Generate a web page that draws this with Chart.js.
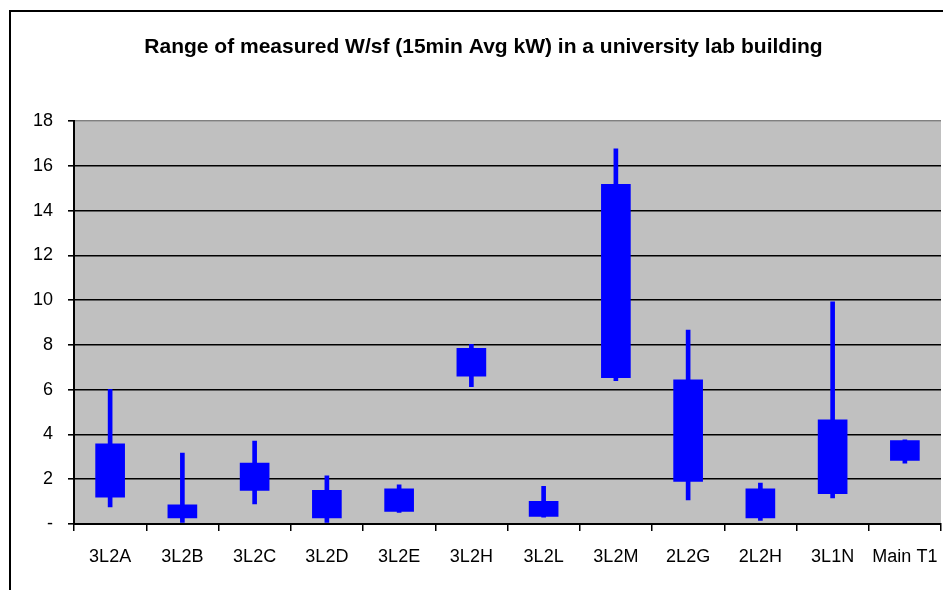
<!DOCTYPE html>
<html>
<head>
<meta charset="utf-8">
<script src="https://cdn.jsdelivr.net/npm/chart.js@4.4.1/dist/chart.umd.min.js"></script>
<style>
    html, body { margin: 0; padding: 0; background: #fff; }
    #wrap { width: 943px; height: 590px; }
</style>
</head>
<body>
<div id="wrap"><canvas id="rangeChart" width="943" height="590"></canvas></div>
<script>
// Range of W/sf per panel: min / 25th / 75th / max
const panels = ['3L2A', '3L2B', '3L2C', '3L2D', '3L2E', '3L2H', '3L2L', '3L2M', '2L2G', '2L2H', '3L1N', 'Main T1'];
const minVals = [0.76, 0.07, 0.90, 0.07, 0.52, 6.14, 0.30, 6.41, 1.08, 0.16, 1.16, 2.72];
const lowVals = [1.20, 0.27, 1.50, 0.27, 0.56, 6.61, 0.34, 6.54, 1.90, 0.27, 1.35, 2.84];
const highVals = [3.58, 0.86, 2.72, 1.50, 1.57, 7.85, 1.01, 15.18, 6.44, 1.57, 4.65, 3.73];
const maxVals = [6.02, 3.17, 3.70, 2.15, 1.75, 8.03, 1.68, 16.77, 8.67, 1.83, 9.93, 3.76];
const yTicks = [0, 2, 4, 6, 8, 10, 12, 14, 16, 18];

const FONT = "'Liberation Sans', Arial, sans-serif";

// grey plot area + outer frame, and nudge the title a bit right
const chartBg = {
    id: 'chartBg',
    afterLayout(chart) {
        if (chart.titleBlock) {
            chart.titleBlock.left += 13;
            chart.titleBlock.right += 13;
        }
    },
    beforeDraw(chart) {
        const { ctx, chartArea: a } = chart;
        ctx.save();
        ctx.fillStyle = '#c0c0c0';
        ctx.fillRect(a.left, a.top, a.right - a.left, a.bottom - a.top);
        ctx.strokeStyle = '#000';
        ctx.lineWidth = 2;
        ctx.beginPath();
        ctx.moveTo(10, 590);
        ctx.lineTo(10, 11);
        ctx.lineTo(943, 11);
        ctx.stroke();
        ctx.restore();
    }
};

const ctx = document.getElementById('rangeChart').getContext('2d');
const rangeChart = new Chart(ctx, {
    type: 'bar',
    data: {
        labels: panels,
        datasets: [
            {
                label: 'Min-Max',
                data: panels.map((p, i) => [minVals[i], maxVals[i]]),
                backgroundColor: '#0000ff',
                barThickness: 4,
                order: 2
            },
            {
                label: 'Range',
                data: panels.map((p, i) => [lowVals[i], highVals[i]]),
                backgroundColor: '#0000ff',
                barThickness: 29,
                order: 1
            }
        ]
    },
    options: {
        responsive: false,
        animation: false,
        layout: { padding: { left: 0, right: 2, top: 0, bottom: 0 } },
        datasets: { bar: { grouped: false } },
        scales: {
            x: {
                offset: true,
                grid: {
                    offset: true,
                    drawOnChartArea: false,
                    drawTicks: true,
                    tickLength: 7,
                    color: '#000',
                    lineWidth: 1.5
                },
                border: { color: '#000', width: 2 },
                ticks: {
                    color: '#000',
                    padding: 15,
                    maxRotation: 0,
                    minRotation: 0,
                    autoSkip: false,
                    font: { family: FONT, size: 18 }
                },
                afterFit(scale) {
                    scale.height = 66;
                    scale.paddingRight = 0;
                }
            },
            y: {
                min: 0,
                max: 18,
                afterBuildTicks(scale) { scale.ticks = yTicks.map(v => ({ value: v })); },
                grid: {
                    color: c => (c.tick && c.tick.value === 18 ? '#808080' : '#000'),
                    lineWidth: 1.6,
                    tickLength: 6,
                    tickColor: '#000'
                },
                border: { color: '#000', width: 2 },
                ticks: {
                    color: '#000',
                    padding: 15,
                    font: { family: FONT, size: 18 },
                    callback: v => (v === 0 ? '-' : v)
                },
                afterFit(scale) { scale.width = 74; }
            }
        },
        plugins: {
            legend: { display: false },
            tooltip: { enabled: false },
            title: {
                display: true,
                text: 'Range of measured W/sf (15min Avg kW) in a university lab building',
                color: '#000',
                font: { family: FONT, size: 21, weight: 'bold' },
                padding: { top: 35, bottom: 61 }
            }
        }
    },
    plugins: [chartBg]
});
</script>
</body>
</html>
